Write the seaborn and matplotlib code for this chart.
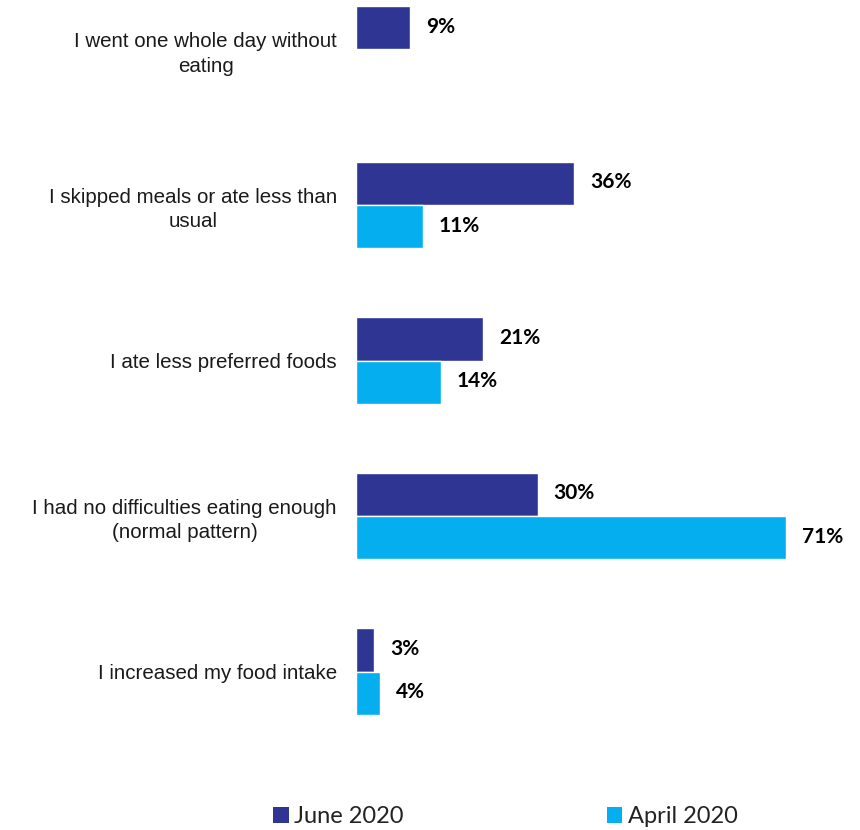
import matplotlib
matplotlib.use("Agg")
import matplotlib.pyplot as plt
from matplotlib.patches import Patch
import seaborn as sns
import pandas as pd

categories = [
    "I went one whole day without\neating",
    "I skipped meals or ate less than\nusual",
    "I ate less preferred foods",
    "I had no difficulties eating enough\n(normal pattern)",
    "I increased my food intake",
]
june_2020 = [9, 36, 21, 30, 3]
april_2020 = [None, 11, 14, 71, 4]
periods = ["June 2020", "April 2020"]
colors = ["#2E3592", "#05AFEF"]

rows = []
for cat, j, a in zip(categories, june_2020, april_2020):
    rows.append({"cat": cat, "period": periods[0], "val": j})
    if a is not None:
        rows.append({"cat": cat, "period": periods[1], "val": a})
df = pd.DataFrame(rows)

sns.set_style("white")
fig = plt.figure(figsize=(8.6, 8.3), dpi=100)
ax = fig.add_axes([356 / 860, 90 / 830, 484 / 860, 740 / 830])

sns.barplot(data=df, y="cat", x="val", hue="period", hue_order=periods,
            order=categories, palette=colors, orient="h", width=0.555,
            dodge=True, ax=ax, legend=False, saturation=1)

ax.set_xlim(0, 80)
ax.set_ylim(4.44, -0.318)
ax.set_xlabel("")
ax.set_ylabel("")
ax.set_xticks([])
for s in ax.spines.values():
    s.set_visible(False)
ax.tick_params(axis="y", length=0, pad=13.7)
for t in ax.get_yticklabels():
    t.set_fontfamily("Liberation Sans")
    t.set_fontsize(14.8)
    t.set_color("#1a1a1a")
    t.set_multialignment("center")
    t.set_linespacing(1.35)

# value labels at bar ends
for cont in ax.containers:
    for bar in cont:
        w = bar.get_width()
        if w != w or w == 0:
            continue
        ax.annotate(f"{int(round(w))}%",
                    (w, bar.get_y() + bar.get_height() / 2),
                    xytext=(16, 1), textcoords="offset pixels",
                    ha="left", va="center", fontsize=15, fontweight="bold",
                    family="Lato", color="black")

handles = [Patch(facecolor=c, edgecolor="none") for c in colors]
fig.legend(handles, periods, loc="center", bbox_to_anchor=(0.588, 0.016),
           ncol=2, frameon=False, prop={"family": "Lato", "size": 17},
           handlelength=0.65, handleheight=0.65, handletextpad=0.25,
           columnspacing=8.6, labelcolor="#222222")

fig.savefig("out.png", dpi=100)
